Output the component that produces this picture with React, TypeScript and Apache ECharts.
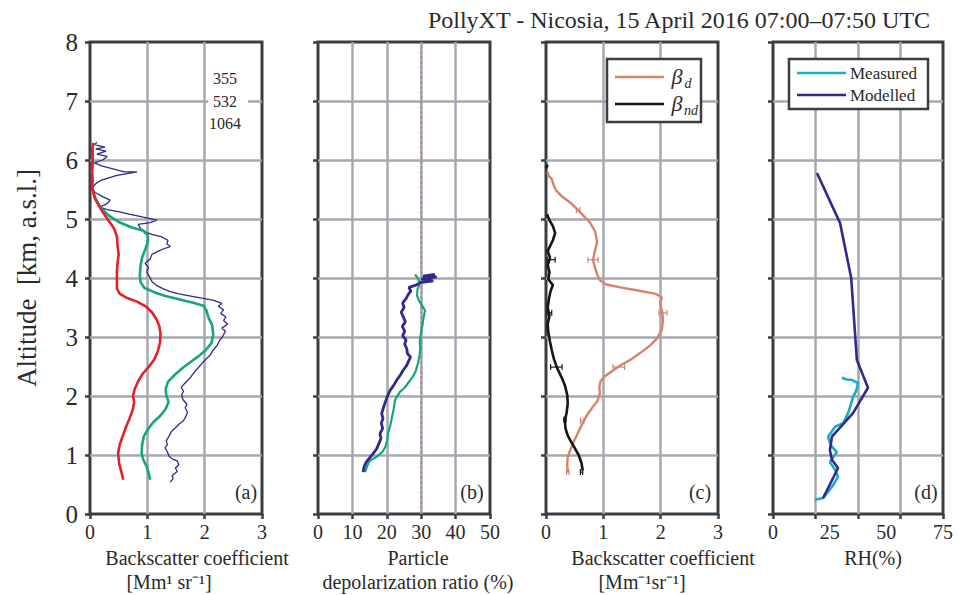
import React, { useEffect, useRef } from "react";
import * as echarts from "echarts";

const FONT = '"Liberation Serif", "Times New Roman", serif';

// ---------- Panel (a): backscatter coefficient [x, altitude km]
const bsc355: number[][] = [
  [1.40,0.54],[1.45,0.60],[1.43,0.65],[1.52,0.72],[1.49,0.78],[1.55,0.84],[1.52,0.90],[1.44,0.93],[1.38,0.98],[1.35,1.05],
  [1.31,1.12],[1.35,1.18],[1.33,1.24],[1.38,1.32],[1.42,1.40],[1.50,1.47],[1.55,1.52],[1.63,1.58],[1.67,1.65],[1.70,1.72],
  [1.66,1.80],[1.69,1.86],[1.62,1.94],[1.60,2.02],[1.63,2.08],[1.59,2.15],[1.66,2.22],[1.74,2.30],[1.80,2.38],[1.88,2.47],
  [1.95,2.55],[2.02,2.62],[2.10,2.70],[2.15,2.78],[2.22,2.86],[2.26,2.94],[2.32,3.02],[2.36,3.10],[2.30,3.15],[2.40,3.22],
  [2.33,3.28],[2.37,3.34],[2.28,3.40],[2.33,3.46],[2.24,3.52],[2.30,3.57],[2.16,3.62],[1.95,3.66],[1.78,3.69],[1.55,3.73],
  [1.40,3.77],[1.27,3.82],[1.15,3.88],[1.08,3.94],[1.04,4.02],[0.99,4.10],[1.02,4.18],[0.96,4.25],[1.05,4.32],[1.08,4.40],
  [1.20,4.46],[1.30,4.50],[1.40,4.53],[1.34,4.58],[1.36,4.64],[1.24,4.70],[1.08,4.74],[0.99,4.77],[0.88,4.84],[0.84,4.91],
  [1.05,4.94],[1.17,4.98],[0.93,5.03],[0.70,5.08],[0.52,5.12],[0.30,5.16],[0.17,5.20],[0.30,5.26],[0.35,5.32],[0.22,5.38],
  [0.09,5.45],[0.04,5.52],[0.10,5.60],[0.20,5.66],[0.47,5.74],[0.82,5.80],[0.60,5.80],[0.40,5.85],[0.20,5.90],[0.08,5.95],
  [0.22,6.00],[0.30,6.06],[0.12,6.10],[0.28,6.15],[0.10,6.19],[0.26,6.22],[0.08,6.26],[0.12,6.30],
];
const bsc532: number[][] = [
  [1.05,0.58],[1.02,0.70],[0.99,0.80],[0.93,0.92],[0.90,1.03],[0.91,1.18],[0.94,1.32],[1.02,1.45],[1.10,1.55],[1.22,1.66],
  [1.32,1.78],[1.37,1.90],[1.33,2.02],[1.32,2.12],[1.36,2.24],[1.48,2.36],[1.62,2.48],[1.76,2.58],[1.90,2.68],[2.02,2.78],
  [2.12,2.90],[2.15,3.05],[2.13,3.20],[2.07,3.32],[2.03,3.45],[1.98,3.53],[1.80,3.58],[1.55,3.64],[1.30,3.70],[1.12,3.76],
  [0.95,3.83],[0.88,3.93],[0.87,4.05],[0.88,4.20],[0.91,4.35],[0.97,4.50],[1.01,4.62],[1.01,4.72],[0.93,4.80],[0.72,4.86],
  [0.50,4.95],[0.32,5.06],[0.20,5.18],[0.12,5.30],[0.07,5.42],[0.04,5.52],[0.05,5.65],[0.03,5.80],[0.06,5.95],[0.04,6.08],
  [0.05,6.20],
];
const bsc1064: number[][] = [
  [0.58,0.58],[0.55,0.70],[0.51,0.85],[0.49,1.03],[0.52,1.18],[0.57,1.32],[0.63,1.48],[0.69,1.62],[0.75,1.78],[0.77,1.90],
  [0.75,2.00],[0.78,2.12],[0.84,2.25],[0.92,2.38],[1.03,2.50],[1.12,2.62],[1.18,2.75],[1.22,2.90],[1.23,3.05],[1.21,3.18],
  [1.16,3.30],[1.08,3.42],[0.97,3.52],[0.82,3.60],[0.65,3.66],[0.52,3.73],[0.47,3.82],[0.47,3.95],[0.47,4.10],[0.48,4.25],
  [0.50,4.40],[0.48,4.55],[0.47,4.70],[0.42,4.84],[0.32,4.98],[0.22,5.12],[0.14,5.25],[0.08,5.36],[0.05,5.48],[0.03,5.60],
  [0.04,5.75],[0.03,5.90],[0.05,6.05],[0.04,6.18],[0.06,6.29],
];
const bscLegend = ["355", "532", "1064"];

// ---------- Panel (b): particle depolarization ratio (%)
const depol355: number[][] = [
  [13.1,0.71],[13.4,0.80],[14.0,0.88],[15.7,1.00],[17.0,1.10],[17.6,1.18],[18.3,1.28],[18.0,1.36],[18.8,1.45],[18.4,1.54],
  [18.9,1.62],[18.5,1.70],[19.0,1.80],[19.6,1.90],[20.2,2.00],[21.0,2.10],[22.0,2.18],[23.0,2.28],[24.0,2.36],[24.8,2.44],
  [25.8,2.52],[26.4,2.60],[26.9,2.66],[26.0,2.72],[25.8,2.80],[25.2,2.88],[25.6,2.95],[24.6,3.02],[25.2,3.10],[24.5,3.18],
  [25.4,3.26],[24.8,3.34],[24.2,3.42],[25.0,3.50],[24.6,3.58],[25.6,3.65],[26.2,3.72],[27.0,3.78],[26.4,3.84],[28.5,3.88],
  [29.7,3.92],[33.5,3.95],[30.0,3.98],[34.5,4.02],[30.5,4.03],[34.0,4.06],
];
const depol532: number[][] = [
  [13.7,0.71],[14.2,0.80],[15.0,0.90],[17.1,0.97],[18.8,1.06],[19.6,1.14],[20.1,1.25],[20.4,1.37],[21.0,1.50],[21.5,1.64],
  [22.0,1.78],[22.4,1.93],[23.8,2.07],[25.2,2.14],[26.2,2.22],[27.5,2.32],[28.4,2.42],[29.1,2.56],[29.5,2.68],[29.7,2.80],
  [29.6,2.92],[29.9,3.05],[30.3,3.18],[30.6,3.30],[31.1,3.45],[30.2,3.54],[29.3,3.62],[28.8,3.70],[28.9,3.80],[29.6,3.92],
  [29.0,4.00],[28.2,4.06],
];
const depolReference = 30;

// ---------- Panel (c): dust / non-dust backscatter
const betaD: number[][] = [
  [0.38,0.71],[0.37,0.85],[0.38,0.97],[0.43,1.10],[0.48,1.22],[0.56,1.38],[0.64,1.54],[0.73,1.70],[0.82,1.82],[0.90,1.92],
  [0.94,2.05],[0.93,2.15],[0.95,2.25],[1.02,2.33],[1.15,2.42],[1.30,2.52],[1.48,2.62],[1.66,2.74],[1.82,2.86],[1.94,2.98],
  [2.02,3.12],[2.04,3.27],[2.03,3.42],[1.99,3.56],[2.02,3.67],[1.92,3.73],[1.65,3.78],[1.30,3.84],[1.05,3.89],[0.94,3.96],
  [0.89,4.07],[0.86,4.16],[0.82,4.30],[0.85,4.45],[0.89,4.60],[0.86,4.78],[0.76,4.95],[0.66,5.05],[0.55,5.16],[0.42,5.28],
  [0.28,5.38],[0.18,5.48],[0.13,5.58],[0.10,5.68],[0.04,5.74],[0.03,5.80],
];
const betaND: number[][] = [
  [0.64,0.74],[0.62,0.86],[0.57,1.00],[0.50,1.12],[0.44,1.22],[0.38,1.33],[0.34,1.45],[0.33,1.58],[0.36,1.72],[0.38,1.88],
  [0.37,2.02],[0.33,2.18],[0.27,2.32],[0.20,2.46],[0.14,2.62],[0.10,2.78],[0.07,2.92],[0.04,3.08],[0.03,3.22],[0.06,3.36],
  [0.03,3.50],[0.05,3.64],[0.08,3.78],[0.12,3.88],[0.04,3.98],[0.06,4.10],[0.03,4.22],[0.07,4.34],[0.03,4.46],[0.08,4.56],
  [0.12,4.64],[0.16,4.76],[0.12,4.88],[0.06,4.98],[0.02,5.08],
];
const betaNDTop: number[][] = [[0.00,5.86],[0.03,5.92]];
// [x, altitude, half-width of error]
const betaDErr: number[][] = [[0.38,0.71,0.02],[0.63,1.58,0.03],[1.27,2.49,0.10],[2.04,3.41,0.07],[0.82,4.31,0.09],[0.56,5.15,0.03]];
const betaNDErr: number[][] = [[0.62,0.71,0.02],[0.33,1.60,0.02],[0.18,2.49,0.10],[0.06,3.41,0.04],[0.09,4.31,0.07]];

// ---------- Panel (d): relative humidity (%)
const rhModelled: number[][] = [
  [19.4,5.78],[29.6,4.93],[34.5,4.00],[37.0,2.61],[41.9,2.14],[35.3,1.71],[26.0,1.31],[25.1,1.08],[26.0,0.92],[28.7,0.78],[22.1,0.27],
];
const rhMeasured: number[][] = [
  [30.4,2.31],[32.5,2.28],[35.0,2.27],[37.5,2.22],[36.8,2.10],[35.3,1.98],[34.0,1.81],[33.1,1.71],[31.0,1.54],[27.4,1.48],
  [24.3,1.31],[25.0,1.22],[26.0,1.14],[28.2,1.05],[25.1,0.88],[27.4,0.75],[28.7,0.63],[26.0,0.46],[22.1,0.27],[18.5,0.24],
];
const rhTickLabels = [0, 25, 50, 75];

const C_RED = "#e4202a";
const C_GREEN = "#16a57d";
const C_NAVY = "#2f2a8c";
const C_ORANGE = "#d68469";
const C_BLACK = "#161616";
const C_CYAN = "#1aabc9";
const FRAME = "#3b3e41";
const GRIDC = "#a4a8af";
const TXT = "#2a2a2a";

const LEFTS = [90, 318, 546, 773];
const WIDTHS = [172, 172, 172, 170];
const TOP = 42;
const HEIGHT = 472;

function errRender(color: string) {
  return (params: any, api: any) => {
    const x = api.value(0), y = api.value(1), e = api.value(2);
    const p1 = api.coord([x - e, y]);
    const p2 = api.coord([x + e, y]);
    const h = 3;
    const st = { stroke: color, lineWidth: 1.2 };
    return {
      type: "group",
      children: [
        { type: "line", shape: { x1: p1[0], y1: p1[1], x2: p2[0], y2: p2[1] }, style: st },
        { type: "line", shape: { x1: p1[0], y1: p1[1] - h, x2: p1[0], y2: p1[1] + h }, style: st },
        { type: "line", shape: { x1: p2[0], y1: p2[1] - h, x2: p2[0], y2: p2[1] + h }, style: st },
      ],
    };
  };
}

function txt(text: string, x: number, y: number, size: number, extra: any = {}) {
  return {
    type: "text",
    x,
    y,
    z: 100,
    style: {
      text,
      font: `${extra.italic ? "italic " : ""}${size}px ${FONT}`,
      fill: extra.fill || TXT,
      align: extra.align || "center",
      textAlign: extra.align || "center",
      verticalAlign: "middle",
      textVerticalAlign: "middle",
    },
  };
}

export default function App() {
  const ref = useRef<HTMLDivElement>(null);

  useEffect(() => {
    document.body.style.margin = "0";
    if (!ref.current) return;
    const chart = echarts.init(ref.current, null, { renderer: "svg" });

    const grids = LEFTS.map((l, i) => ({
      left: l,
      top: TOP,
      width: WIDTHS[i],
      height: HEIGHT,
      show: true,
      borderColor: FRAME,
      borderWidth: 3,
      backgroundColor: "transparent",
    }));

    const splitLine = { show: true, showMinLine: false, showMaxLine: false, lineStyle: { color: GRIDC, width: 2.5 } };
    const axisTick = { show: true, length: 5, lineStyle: { color: FRAME, width: 2.5 } };
    const xLabel = { show: true, fontFamily: FONT, fontSize: 20, color: TXT, margin: 8 };

    const xRanges = [
      { max: 3, interval: 1 },
      { max: 50, interval: 10 },
      { max: 3, interval: 1 },
      { max: 75, interval: 18.75 },
    ];
    const xAxes: any[] = xRanges.map((r, i) => ({
      type: "value",
      gridIndex: i,
      min: 0,
      max: r.max,
      interval: r.interval,
      axisLine: { show: false },
      axisTick,
      splitLine,
      axisLabel: i === 3 ? { show: false } : xLabel,
    }));
    xAxes.push({
      type: "value",
      gridIndex: 3,
      min: 0,
      max: 75,
      interval: 25,
      position: "bottom",
      axisLine: { show: false },
      axisTick: { show: false },
      splitLine: { show: false },
      axisLabel: { ...xLabel, formatter: (v: number) => (rhTickLabels.includes(v) ? String(v) : "") },
    });

    const yAxes = LEFTS.map((_, i) => ({
      type: "value",
      gridIndex: i,
      min: 0,
      max: 8,
      interval: 1,
      axisLine: { show: false },
      axisTick,
      splitLine,
      axisLabel: i === 0 ? { show: true, fontFamily: FONT, fontSize: 25, color: TXT, margin: 12 } : { show: false },
      name: i === 0 ? "Altitude  [km, a.s.l.]" : "",
      nameLocation: "middle",
      nameGap: 50,
      nameTextStyle: { fontFamily: FONT, fontSize: 27, color: TXT },
    }));

    const line = (data: number[][], idx: number, color: string, width: number, extra: any = {}) => ({
      type: "line",
      xAxisIndex: idx,
      yAxisIndex: idx,
      data,
      showSymbol: false,
      symbol: "none",
      lineStyle: { color, width, ...(extra.lineStyle || {}) },
      z: extra.z || 3,
      silent: true,
      ...(extra.name ? { name: extra.name } : {}),
    });

    const series: any[] = [
      line(bsc355, 0, C_NAVY, 1.3, { name: "355" }),
      line(bsc532, 0, C_GREEN, 2.6, { name: "532" }),
      line(bsc1064, 0, C_RED, 2.6, { name: "1064" }),
      line([[depolReference, 0], [depolReference, 8]], 1, "#d86a6a", 1.2, { lineStyle: { type: [3, 2] }, z: 2 }),
      line(depol532, 1, C_GREEN, 2.2),
      line(depol355, 1, C_NAVY, 2.8),
      line(betaD, 2, C_ORANGE, 2.4, { name: "βd" }),
      line(betaND, 2, C_BLACK, 2.6, { name: "βnd" }),
      line(betaNDTop, 2, C_BLACK, 2.6),
      {
        type: "custom",
        xAxisIndex: 2,
        yAxisIndex: 2,
        data: betaDErr,
        renderItem: errRender(C_ORANGE),
        z: 4,
        silent: true,
      },
      {
        type: "custom",
        xAxisIndex: 2,
        yAxisIndex: 2,
        data: betaNDErr,
        renderItem: errRender(C_BLACK),
        z: 4,
        silent: true,
      },
      line(rhMeasured, 3, C_CYAN, 2.6, { name: "Measured" }),
      line(rhModelled, 3, C_NAVY, 2.6, { name: "Modelled" }),
    ];

    const graphic: any[] = [
      txt("PollyXT - Nicosia, 15 April 2016 07:00\u201307:50 UTC", 679, 20, 24),
      // axis titles
      txt("Backscatter coefficient", 197, 558, 20),
      txt("[Mm\u00b9 sr\u207b\u00b9]", 169, 582, 20),
      txt("Particle", 418, 558, 20),
      txt("depolarization ratio (%)", 418, 582, 20),
      txt("Backscatter coefficient", 663, 558, 20),
      txt("[Mm\u207b\u00b9sr\u207b\u00b9]", 642, 582, 20),
      txt("RH(%)", 873, 558, 20),
      // panel letters
      txt("(a)", 246, 492, 20),
      txt("(b)", 472, 492, 20),
      txt("(c)", 700, 492, 20),
      txt("(d)", 926, 492, 20),
      // panel (a) legend
      { type: "rect", z: 90, shape: { x: 208, y: 66, width: 40, height: 68 }, style: { fill: "#ffffff" } },
      txt(bscLegend[0], 225, 78, 16),
      txt(bscLegend[1], 225, 101, 16),
      txt(bscLegend[2], 225, 123, 16),
      // panel (c) legend
      { type: "rect", z: 90, shape: { x: 607, y: 59, width: 94, height: 63 }, style: { fill: "#ffffff", stroke: FRAME, lineWidth: 2.5 } },
      { type: "line", z: 95, shape: { x1: 615, y1: 77, x2: 664, y2: 77 }, style: { stroke: C_ORANGE, lineWidth: 2.4 } },
      { type: "line", z: 95, shape: { x1: 615, y1: 104, x2: 664, y2: 104 }, style: { stroke: C_BLACK, lineWidth: 2.4 } },
      txt("\u03b2", 677, 76, 22, { italic: true }),
      txt("d", 688, 83, 14, { italic: true }),
      txt("\u03b2", 677, 103, 22, { italic: true }),
      txt("nd", 691, 110, 14, { italic: true }),
      // panel (d) legend
      { type: "rect", z: 90, shape: { x: 789, y: 59, width: 139, height: 50 }, style: { fill: "#ffffff", stroke: FRAME, lineWidth: 2.5 } },
      { type: "line", z: 95, shape: { x1: 797, y1: 73, x2: 846, y2: 73 }, style: { stroke: C_CYAN, lineWidth: 2.6 } },
      { type: "line", z: 95, shape: { x1: 797, y1: 95, x2: 846, y2: 95 }, style: { stroke: C_NAVY, lineWidth: 2.6 } },
      txt("Measured", 850, 73, 17, { align: "left" }),
      txt("Modelled", 850, 95, 17, { align: "left" }),
    ];

    chart.setOption({
      animation: false,
      backgroundColor: "#ffffff",
      grid: grids,
      xAxis: xAxes,
      yAxis: yAxes,
      series,
      graphic,
    });

    return () => chart.dispose();
  }, []);

  return <div ref={ref} style={{ width: 959, height: 595 }} />;
}
